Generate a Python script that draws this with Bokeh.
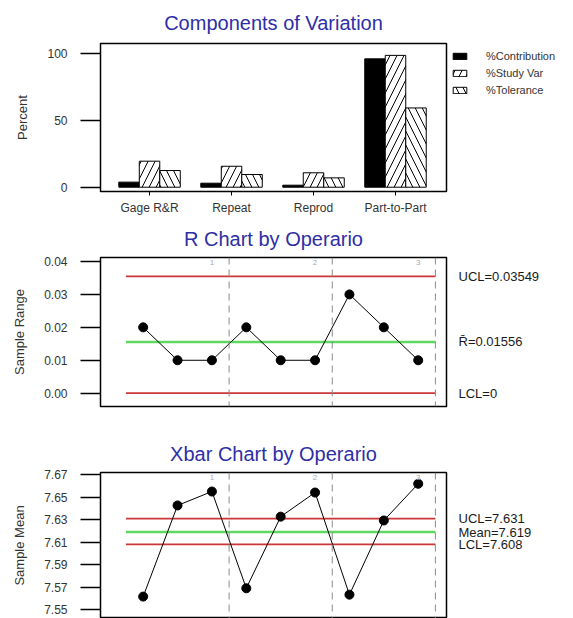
from bokeh.plotting import figure
from bokeh.layouts import column
from bokeh.models import (FixedTicker, NumeralTickFormatter, Span, Label, Legend,
                          LegendItem, ColumnDataSource, Range1d, LinearAxis)
from bokeh.transform import dodge
from bokeh.embed import file_html
from bokeh.resources import INLINE

# ---------------- data ----------------
components = ["Gage R&R", "Repeat", "Reprod", "Part-to-Part"]
pct_contribution = [3.8, 3.0, 1.5, 96.2]
pct_study_var = [19.5, 15.7, 10.8, 98.8]
pct_tolerance = [12.5, 9.5, 7.0, 59.4]
percent_ticks = [0, 50, 100]

operators = ["1", "2", "3"]
parts_per_operator = 3
sample_range = [0.02, 0.01, 0.01, 0.02, 0.01, 0.01, 0.03, 0.02, 0.01]
r_ucl, r_bar, r_lcl = 0.03549, 0.01556, 0.0
r_ticks = [0.00, 0.01, 0.02, 0.03, 0.04]

sample_mean = [7.5615, 7.6427, 7.6551, 7.5689, 7.6327, 7.6542, 7.5632, 7.6293, 7.6620]
x_ucl, x_mean, x_lcl = 7.631, 7.619, 7.608
xbar_ticks = [7.55, 7.57, 7.59, 7.61, 7.63, 7.65, 7.67]

# ---------------- style ----------------
W = 573
FONT = "Liberation Sans"
TITLE_COLOR = "#2e2ea6"
TXT = "#333333"
RED = "#cc3636"
GREEN = "#5fd85f"
LEFT = 100
FRAME_W = 346


def base_fig(frame_h, top, bottom, x_range, y_range, title, standoff):
    p = figure(frame_width=FRAME_W, frame_height=frame_h, x_range=x_range, y_range=y_range,
               output_backend="svg", toolbar_location=None,
               min_border_left=LEFT, min_border_right=W - LEFT - FRAME_W,
               min_border_top=top, min_border_bottom=bottom, title=title)
    p.title.align = "center"
    p.title.text_font = FONT
    p.title.text_font_size = "20px"
    p.title.text_font_style = "normal"
    p.title.text_color = TITLE_COLOR
    p.title.standoff = standoff
    p.outline_line_color = "black"
    p.outline_line_width = 1.5
    p.xgrid.visible = False
    p.ygrid.visible = False
    ya = p.yaxis[0]
    ya.axis_line_color = None
    ya.major_tick_out = 20
    ya.major_tick_in = 0
    ya.major_tick_line_width = 1.5
    ya.minor_tick_line_color = None
    ya.major_label_text_font = FONT
    ya.major_label_text_font_size = "12px"
    ya.major_label_text_color = TXT
    ya.major_label_standoff = 13
    ya.axis_label_text_font = FONT
    ya.axis_label_text_font_size = "13px"
    ya.axis_label_text_font_style = "normal"
    ya.axis_label_text_color = TXT
    ya.axis_label_standoff = 14
    return p


# ---------------- Components of Variation ----------------
xpos = [i + 1 for i in range(len(components))]
src1 = ColumnDataSource(dict(x=xpos, contrib=pct_contribution, sv=pct_study_var, tol=pct_tolerance))
p1 = base_fig(148, 43, 26, Range1d(0.402, 4.622), Range1d(-3.22, 107.7),
              "Components of Variation", 19)
bw = 0.25
r_c = p1.vbar(x=dodge("x", -bw, range=p1.x_range), top="contrib", width=bw, source=src1,
              fill_color="black", line_color="black", line_width=1)
r_s = p1.vbar(x=dodge("x", 0, range=p1.x_range), top="sv", width=bw, source=src1,
              fill_color="white", line_color="black", line_width=1,
              hatch_pattern="/", hatch_color="black", hatch_scale=14, hatch_weight=1)
r_t = p1.vbar(x=dodge("x", bw, range=p1.x_range), top="tol", width=bw, source=src1,
              fill_color="white", line_color="black", line_width=1,
              hatch_pattern="\\", hatch_color="black", hatch_scale=14, hatch_weight=1)
p1.yaxis.ticker = FixedTicker(ticks=percent_ticks)
p1.yaxis.axis_label = "Percent"
xa = p1.xaxis[0]
xa.ticker = FixedTicker(ticks=xpos)
xa.major_label_overrides = {x: c for x, c in zip(xpos, components)}
xa.axis_line_color = None
xa.major_tick_out = 4
xa.major_tick_in = 0
xa.minor_tick_line_color = None
xa.major_label_text_font = FONT
xa.major_label_text_font_size = "12px"
xa.major_label_text_color = TXT
xa.major_label_standoff = 5

legend = Legend(items=[LegendItem(label="%Contribution", renderers=[r_c]),
                       LegendItem(label="%Study Var", renderers=[r_s]),
                       LegendItem(label="%Tolerance", renderers=[r_t])],
                location="top_left", border_line_color=None, background_fill_alpha=0,
                margin=5, padding=11, spacing=1, label_height=16, glyph_height=8,
                glyph_width=17, label_standoff=18, label_text_font=FONT,
                label_text_font_size="11px", label_text_color=TXT)
p1.add_layout(legend, "right")

# ---------------- shared sample axis ----------------
samples = [i + 1 for i in range(len(sample_range))]
x_lo, x_hi = samples[0] - 0.5, samples[-1] + 0.5
boundaries = [(k + 1) * parts_per_operator + 0.5 for k in range(len(operators))]
op_label_x = [(k + 1) * parts_per_operator for k in range(len(operators))]


def control_chart(p, values, limits, texts, y_end):
    p.xaxis.visible = False
    for b in boundaries:
        p.add_layout(Span(location=b, dimension="height", line_color="#8a8a8a",
                          line_dash="7 5", line_width=1))
    ucl, center, lcl = limits
    p.segment(x0=[x_lo, x_lo], x1=[x_hi, x_hi], y0=[ucl, lcl], y1=[ucl, lcl],
              line_color=RED, line_width=1.8)
    p.segment(x0=[x_lo], x1=[x_hi], y0=[center], y1=[center], line_color=GREEN, line_width=2.5)
    src = ColumnDataSource(dict(x=samples, y=values))
    p.line(x="x", y="y", source=src, line_color="black", line_width=1)
    p.scatter(x="x", y="y", source=src, size=9, color="black")
    for xo, op in zip(op_label_x, operators):
        p.add_layout(Label(x=xo, y=y_end, text=op, text_font=FONT, text_font_size="8px",
                           text_color="#aaaaaa", text_align="center", text_baseline="top",
                           y_offset=-2))
    ra = LinearAxis(ticker=FixedTicker(ticks=list(limits)),
                    major_label_overrides={float(v): t for v, t in zip(limits, texts)},
                    axis_line_color=None, major_tick_line_color=None, major_tick_out=0,
                    major_tick_in=0, minor_tick_line_color=None, major_label_standoff=12,
                    major_label_text_font=FONT, major_label_text_font_size="13px",
                    major_label_text_color="#1a1a1a")
    p.add_layout(ra, "right")


# ---------------- R chart ----------------
xr_start, xr_end = -0.241, 9.823
p2 = base_fig(149, 40, 16, Range1d(xr_start, xr_end), Range1d(-0.00404, 0.04121),
              "R Chart by Operario", 15)
p2.yaxis.ticker = FixedTicker(ticks=r_ticks)
p2.yaxis.formatter = NumeralTickFormatter(format="0.00")
p2.yaxis.axis_label = "Sample Range"
control_chart(p2, sample_range, (r_ucl, r_bar, r_lcl),
              ["UCL=%.5f" % r_ucl, "R\u0304=%.5f" % r_bar, "LCL=%g" % r_lcl], 0.04121)

# ---------------- Xbar chart ----------------
p3 = base_fig(146, 50, 0, Range1d(xr_start, xr_end), Range1d(7.54198, 7.67205),
              "Xbar Chart by Operario", 15)
p3.yaxis.ticker = FixedTicker(ticks=xbar_ticks)
p3.yaxis.formatter = NumeralTickFormatter(format="0.00")
p3.yaxis.axis_label = "Sample Mean"
control_chart(p3, sample_mean, (x_ucl, x_mean, x_lcl),
              ["UCL=%.3f" % x_ucl, "Mean=%.3f" % x_mean, "LCL=%.3f" % x_lcl], 7.67205)

layout = column(p1, p2, p3)
open("out.html", "w").write(file_html(layout, INLINE))
